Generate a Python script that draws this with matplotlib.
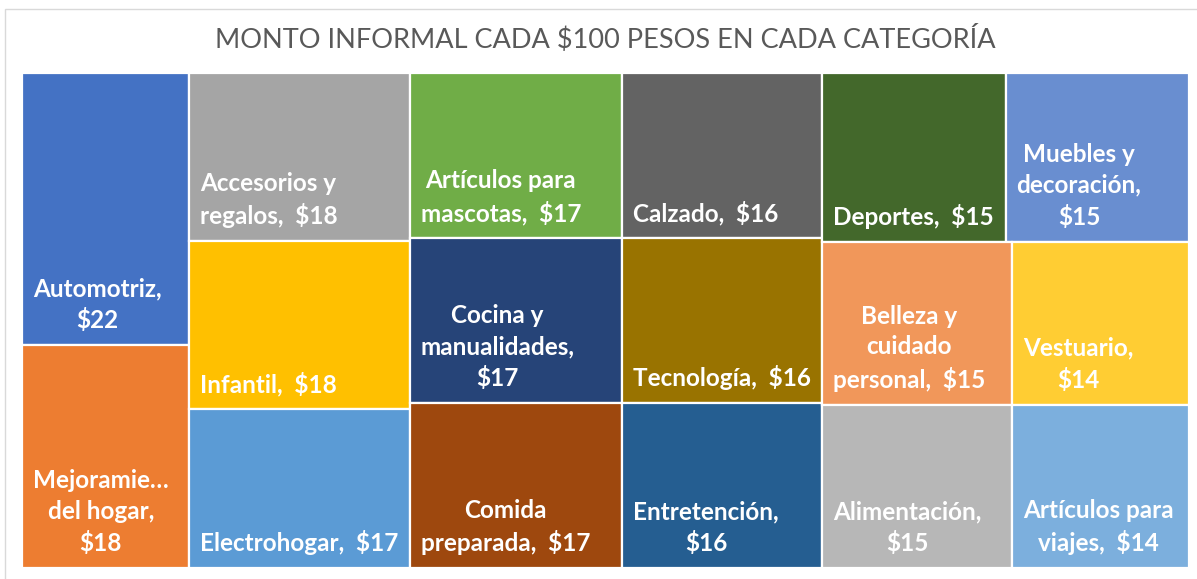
import matplotlib
matplotlib.use("Agg")
import matplotlib.pyplot as plt
from matplotlib.patches import Rectangle

# ---------------- data ----------------
categories = ["Automotriz", "Mejoramiento del hogar", "Accesorios y regalos", "Infantil",
              "Electrohogar", "Artículos para mascotas", "Cocina y manualidades",
              "Comida preparada", "Calzado", "Tecnología", "Entretención", "Deportes",
              "Muebles y decoración", "Belleza y cuidado personal", "Alimentación",
              "Vestuario", "Artículos para viajes"]
values = [22, 18, 18, 18, 17, 17, 17, 17, 16, 16, 16, 15, 15, 15, 15, 14, 14]
# names as wrapped in the tiles
wrapped_names = ["Automotriz", "Mejoramie…\ndel hogar", "Accesorios y\nregalos", "Infantil",
                 "Electrohogar", "Artículos para\nmascotas", "Cocina y\nmanualidades",
                 "Comida\npreparada", "Calzado", "Tecnología", "Entretención", "Deportes",
                 "Muebles y\ndecoración", "Belleza y\ncuidado\npersonal", "Alimentación",
                 "Vestuario", "Artículos para\nviajes"]
value_new_line = [True, True, False, False, False, False, True, False, False, False,
                  True, False, True, False, True, True, False]
colors = ["#4472C4", "#ED7D31", "#A5A5A5", "#FFC000", "#5B9BD5", "#70AD47", "#264478",
          "#9E480E", "#636363", "#997300", "#255E91", "#43682B", "#698ED0", "#F1975A",
          "#B7B7B7", "#FFCD33", "#7CAFDD"]
title = "MONTO INFORMAL CADA $100 PESOS EN CADA CATEGORÍA"


# ---------------- layout (squarified, Excel-like rule) ----------------
def treemap_layout(vals, x, y, w, h):
    total = float(sum(vals))
    areas = [v * w * h / total for v in vals]
    rects = []
    i = 0
    while i < len(areas):
        vertical = w >= h
        side = h if vertical else w

        def last_ratio(row):
            thick = sum(row) / side
            length = row[-1] / thick
            return max(thick / length, length / thick)

        row = [areas[i]]
        j = i + 1
        while j < len(areas):
            cand = row + [areas[j]]
            if last_ratio(cand) <= last_ratio(row):
                row = cand
                j += 1
            else:
                break
        thick = sum(row) / side
        if vertical:
            top = y + h
            for a in row:
                l = a / thick
                rects.append((x, top - l, thick, l))
                top -= l
            x += thick
            w -= thick
        else:
            cx = x
            for a in row:
                l = a / thick
                rects.append((cx, y + h - thick, l, thick))
                cx += l
            h -= thick
        i = j
    return rects


W_PX, H_PX = 1197, 579
fig = plt.figure(figsize=(W_PX / 100, H_PX / 100), dpi=100)
fig.patch.set_facecolor("white")

# outer light border
fig.patches.append(Rectangle((5 / W_PX, -0.1), 1.2, 1 + 0.1 - 9 / H_PX,
                             transform=fig.transFigure, fill=False,
                             edgecolor="#D9D9D9", linewidth=1.0))

pl, pr, pt, pb = 22, 1189, 73, 568
AW, AH = pr - pl, pb - pt
ax = fig.add_axes([pl / W_PX, (H_PX - pb) / H_PX, AW / W_PX, AH / H_PX])
ax.set_xlim(0, AW)
ax.set_ylim(0, AH)
ax.axis("off")

rects = treemap_layout(values, 0, 0, AW, AH)
for (rx, ry, rw, rh), c, name, v, nl in zip(rects, colors, wrapped_names, values, value_new_line):
    ax.add_patch(Rectangle((rx, ry), rw, rh, facecolor=c, edgecolor="white", linewidth=1.6))
    label = f"{name},\n${v}" if nl else f"{name},  ${v}"
    ax.text(rx + 11, ry + 17, label, ha="left", va="baseline", multialignment="center",
            color="white", fontsize=17.5, fontweight="bold", family="Lato",
            linespacing=1.4)

fig.text((pl + pr) / 2 / W_PX, (H_PX - 48) / H_PX, title, ha="center", va="baseline",
         color="#595959", fontsize=19.5, family="Lato", fontweight="normal")

fig.savefig("out.png", dpi=100, facecolor="white")
